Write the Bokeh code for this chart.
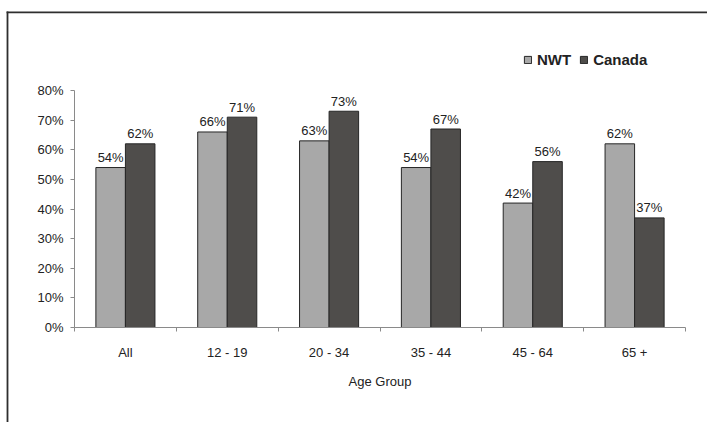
from bokeh.plotting import figure
from bokeh.models import (ColumnDataSource, Range1d, FixedTicker, BoxAnnotation,
                          Legend, LegendItem)
from bokeh.transform import dodge
from bokeh.core.properties import value
from bokeh.embed import file_html
from bokeh.resources import INLINE

# Share of population by age group, NWT vs Canada (percent)
age_groups = ["All", "12 - 19", "20 - 34", "35 - 44", "45 - 64", "65 +"]
nwt_pct = [54, 66, 63, 54, 42, 62]
canada_pct = [62, 71, 73, 67, 56, 37]
y_ticks = [0, 10, 20, 30, 40, 50, 60, 70, 80]

W, H = 707, 422
FONT = "Liberation Sans"
TEXT = "#222222"
AXIS = "#8a8a8a"
NWT_FILL = "#a8a8a8"
CAN_FILL = "#4f4d4b"
BAR_LINE = "#262626"
FRAME_LINE = "#2e2e2e"
BAR_W = 0.29

# plot area in canvas pixels; the frame fills the whole canvas and the
# axes are pinned inside it so the page border can be drawn too
AX_L, AX_R, AX_T, AX_B = 74, 685, 90, 327
n = len(age_groups)
y_top = y_ticks[-1]
kx = (AX_R - AX_L) / n
ky = (AX_B - AX_T) / y_top
x0 = -AX_L / kx
x1 = n + (W - AX_R) / kx
y0 = -(H - AX_B) / ky
y1 = AX_B / ky


def px_x(px):
    return x0 + px / kx


def px_y(py):
    return (AX_B - py) / ky


centers = [i + 0.5 for i in range(n)]
src = ColumnDataSource(dict(
    x=centers,
    nwt=nwt_pct,
    canada=canada_pct,
    nwt_lbl=[f"{v}%" for v in nwt_pct],
    canada_lbl=[f"{v}%" for v in canada_pct],
))

p = figure(width=W, height=H, output_backend="svg", toolbar_location=None,
           x_range=Range1d(x0, x1), y_range=Range1d(y0, y1),
           min_border_left=0, min_border_right=0, min_border_top=0,
           min_border_bottom=0)
p.outline_line_color = None
p.grid.visible = False
p.background_fill_color = "white"
p.border_fill_color = "white"

r_nwt = p.vbar(x=dodge("x", -BAR_W / 2), top="nwt", width=BAR_W, source=src,
               fill_color=NWT_FILL, line_color=BAR_LINE, line_width=1)
r_can = p.vbar(x=dodge("x", BAR_W / 2), top="canada", width=BAR_W, source=src,
               fill_color=CAN_FILL, line_color=BAR_LINE, line_width=1)

for col, lbl, off in (("nwt", "nwt_lbl", -BAR_W / 2), ("canada", "canada_lbl", BAR_W / 2)):
    p.text(x=dodge("x", off), y=col, text=lbl, source=src,
           text_align="center", text_baseline="middle", y_offset=-10,
           text_font=value(FONT), text_font_size="13px", text_color=TEXT)

# x axis: labels at category centres, tick marks at category boundaries
xa = p.xaxis[0]
xa.fixed_location = 0
xa.bounds = (0, n)
xa.ticker = FixedTicker(ticks=centers, minor_ticks=list(range(n + 1)))
xa.major_label_overrides = {c: g for c, g in zip(centers, age_groups)}
xa.major_tick_out = 0
xa.major_tick_in = 0
xa.minor_tick_out = 4
xa.minor_tick_in = 0
xa.minor_tick_line_color = AXIS
xa.axis_line_color = AXIS
xa.major_label_standoff = 13
xa.major_label_text_font = FONT
xa.major_label_text_font_size = "13px"
xa.major_label_text_color = TEXT
xa.axis_label = "Age Group"
xa.axis_label_text_font = FONT
xa.axis_label_text_font_size = "13px"
xa.axis_label_text_font_style = "normal"
xa.axis_label_text_color = TEXT
xa.axis_label_standoff = 11

ya = p.yaxis[0]
ya.fixed_location = 0
ya.ticker = FixedTicker(ticks=y_ticks, minor_ticks=[])
ya.major_label_overrides = {v: f"{v}%" for v in y_ticks}
ya.bounds = (0, y_top)
ya.major_tick_out = 4
ya.major_tick_in = 0
ya.minor_tick_line_color = None
ya.major_tick_line_color = AXIS
ya.axis_line_color = AXIS
ya.major_label_standoff = 7
ya.major_label_text_font = FONT
ya.major_label_text_font_size = "13px"
ya.major_label_text_color = TEXT

legend = Legend(items=[LegendItem(label="NWT", renderers=[r_nwt]),
                       LegendItem(label="Canada", renderers=[r_can])],
                orientation="horizontal", location=(523, H - 68),
                glyph_width=9, glyph_height=9, label_height=15,
                label_standoff=5, spacing=8, padding=0, margin=0,
                border_line_color=None, background_fill_alpha=0,
                label_text_font=FONT, label_text_font_size="15px",
                label_text_font_style="bold", label_text_color=TEXT)
p.add_layout(legend)

# page frame rule along the top and down the left edge (filled strips only,
# so no edge is drawn on the right or bottom)
p.add_layout(BoxAnnotation(left=px_x(6.1), right=x1 + 5, top=px_y(11.1), bottom=px_y(12.8),
                           fill_color=FRAME_LINE, fill_alpha=1, line_alpha=0))
p.add_layout(BoxAnnotation(left=px_x(6.1), right=px_x(7.9), top=px_y(11.1), bottom=y0 - 5,
                           fill_color=FRAME_LINE, fill_alpha=1, line_alpha=0))

open("out.html", "w").write(file_html(p, INLINE))
